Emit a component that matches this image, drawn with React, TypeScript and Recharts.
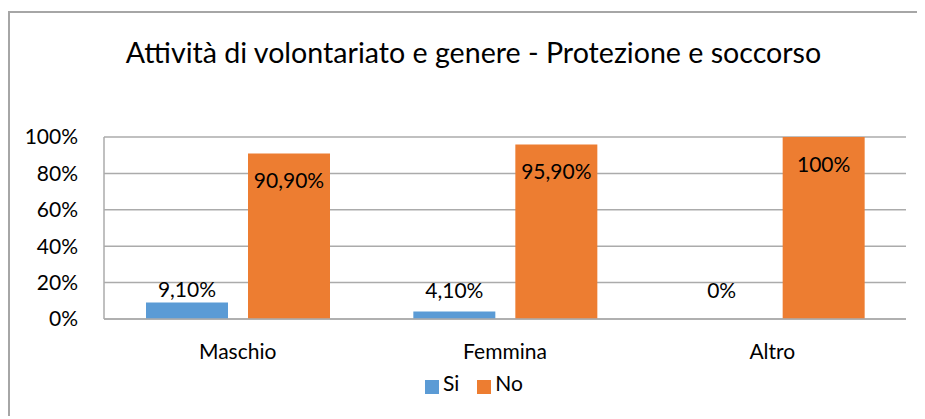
import React from 'react';
import { BarChart, Bar, XAxis, YAxis, CartesianGrid, Legend, LabelList } from 'recharts';

// Categories and series values (percent)
const categories = ['Maschio', 'Femmina', 'Altro'];
const siValues = [9.1, 4.1, 0];
const noValues = [90.9, 95.9, 100];
const yTicks = [0, 20, 40, 60, 80, 100];

const data = categories.map((genere, i) => ({ genere, si: siValues[i], no: noValues[i] }));

const COLORS = { si: '#5B9BD5', no: '#ED7D31', grid: '#ababab' };
const FONT = 'Lato, "Open Sans", sans-serif';

const fmt = (v: number) => (v % 1 === 0 ? `${v}%` : `${v.toFixed(2).replace('.', ',')}%`);

// Small bars: label sits above the bar, but never lower than a fixed line over the axis
const SiLabel = (props: any) => {
  const { x, y, width, value } = props;
  const plotBottom = 306;
  const baseline = Math.min(y - 5, plotBottom - 21);
  return (
    <text x={x + width / 2} y={baseline} textAnchor="middle" fill="#000" fontSize={21} fontFamily={FONT}>
      {fmt(value)}
    </text>
  );
};

export default function App() {
  return (
    <div
      style={{
        position: 'relative',
        top: 3,
        width: 915,
        height: 406,
        borderLeft: '2px solid #a6a6a6',
        borderTop: '2px solid #a6a6a6',
        fontFamily: FONT,
        background: '#fff',
      }}
    >
      <div
        style={{
          position: 'absolute',
          top: 22,
          left: 0,
          width: 927,
          textAlign: 'center',
          fontSize: 28.6,
          color: '#000',
        }}
      >
        Attività di volontariato e genere - Protezione e soccorso
      </div>
      <BarChart
        width={915}
        height={406}
        data={data}
        margin={{ top: 124, right: 19, left: 0, bottom: 24 }}
        barSize={82}
        barGap={20}
      >
        <CartesianGrid vertical={false} stroke={COLORS.grid} strokeWidth={1.5} />
        <XAxis
          dataKey="genere"
          height={51}
          tickSize={0}
          tickMargin={25}
          axisLine={{ stroke: COLORS.grid, strokeWidth: 1.5 }}
          tick={{ fill: '#000', fontSize: 21, fontFamily: FONT }}
        />
        <YAxis
          width={94}
          domain={[0, 100]}
          ticks={yTicks}
          tickFormatter={(v) => `${v}%`}
          tickSize={0}
          tickMargin={26}
          axisLine={{ stroke: COLORS.grid, strokeWidth: 1.5 }}
          tick={{ fill: '#000', fontSize: 21, fontFamily: FONT }}
        />
        <Legend
          verticalAlign="bottom"
          iconType="square"
          iconSize={14}
          itemSorter={(item: any) => (item.dataKey === 'si' ? 0 : 1)}
          wrapperStyle={{ paddingLeft: 25 }}
          formatter={(value) => <span style={{ color: '#000', fontSize: 21, marginRight: 8 }}>{value}</span>}
        />
        <Bar dataKey="si" name="Si" fill={COLORS.si} minPointSize={0.1} isAnimationActive={false}>
          <LabelList dataKey="si" content={SiLabel} />
        </Bar>
        <Bar dataKey="no" name="No" fill={COLORS.no} isAnimationActive={false}>
          <LabelList
            dataKey="no"
            position="insideTop"
            offset={20}
            formatter={(v: any) => fmt(v)}
            fill="#000"
            fontSize={21}
            fontFamily={FONT}
          />
        </Bar>
      </BarChart>
    </div>
  );
}
